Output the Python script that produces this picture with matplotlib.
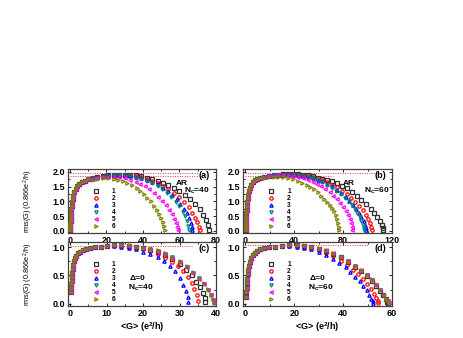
import numpy as np
import matplotlib.pyplot as plt
from matplotlib.ticker import MultipleLocator

plt.rcParams['font.family'] = ['Liberation Sans', 'DejaVu Sans']
plt.rcParams['font.weight'] = 'bold'
plt.rcParams['mathtext.fontset'] = 'custom'
plt.rcParams['mathtext.rm'] = 'Liberation Sans:bold'
plt.rcParams['mathtext.bf'] = 'Liberation Sans:bold'
plt.rcParams['mathtext.it'] = 'Liberation Sans:bold'

labels = ['1', '2', '3', '4', '5', '6']

# ---------------- panel (a): AR, Nc=40 ----------------
rise_a_g = [0.1, 0.15, 0.2, 0.3, 0.4, 0.5, 0.6, 0.75, 0.9, 1.1, 1.3, 1.6, 2.0, 2.5, 3.2, 4.0, 5.2, 6.6, 8.2, 10]
rise_a_y = [0.03, 0.09, 0.16, 0.24, 0.33, 0.42, 0.52, 0.62, 0.73, 0.85, 0.97, 1.08, 1.2, 1.32, 1.43, 1.52, 1.6, 1.66, 1.71, 1.75]
tail_a_g = [
    [12.5, 15, 18, 21, 24, 27, 30, 33, 36, 39, 42, 45, 48, 51, 54, 57, 60, 63, 66, 68.5, 71, 73, 74.5, 75.5, 76],
    [12.5, 15, 18, 21, 24, 27, 30, 33, 36, 39, 42, 45, 48, 51, 54, 57, 60, 62.5, 65, 67, 68.5, 69.8, 70.6, 71],
    [12.5, 15, 18, 21, 24, 27, 30, 33, 36, 39, 42, 45, 48, 51, 53.5, 56, 58.5, 60.5, 62.5, 64, 65.2, 66.2, 66.8, 67],
    [12.5, 15, 18, 21, 24, 27, 30, 33, 36, 39, 42, 45, 48, 50.5, 53, 55.5, 58, 60, 61.8, 63, 64, 64.6, 65],
    [12.5, 15, 18, 21, 24, 27, 30, 33, 36, 38.5, 41, 43.5, 46, 48.5, 50.5, 52.5, 54.3, 55.8, 57, 58, 58.6, 59],
    [12.5, 15, 18, 21, 24, 26.5, 29, 31.5, 34, 36.5, 38.5, 40.5, 42.5, 44.3, 46, 47.5, 48.8, 49.9, 50.8, 51.5, 51.9],
]
tail_a_y = [
    [1.79, 1.82, 1.85, 1.88, 1.9, 1.91, 1.91, 1.9, 1.88, 1.85, 1.81, 1.76, 1.7, 1.63, 1.55, 1.46, 1.35, 1.22, 1.07, 0.92, 0.74, 0.55, 0.37, 0.19, 0.03],
    [1.79, 1.82, 1.85, 1.87, 1.89, 1.9, 1.9, 1.88, 1.86, 1.82, 1.77, 1.71, 1.63, 1.54, 1.43, 1.3, 1.14, 0.98, 0.8, 0.62, 0.45, 0.29, 0.15, 0.03],
    [1.78, 1.82, 1.85, 1.87, 1.89, 1.9, 1.89, 1.87, 1.84, 1.8, 1.74, 1.67, 1.58, 1.47, 1.36, 1.23, 1.08, 0.93, 0.76, 0.6, 0.44, 0.28, 0.14, 0.03],
    [1.78, 1.81, 1.84, 1.86, 1.88, 1.88, 1.87, 1.85, 1.81, 1.76, 1.7, 1.62, 1.52, 1.42, 1.3, 1.16, 0.99, 0.83, 0.65, 0.49, 0.33, 0.18, 0.04],
    [1.76, 1.79, 1.82, 1.83, 1.83, 1.82, 1.79, 1.74, 1.67, 1.6, 1.51, 1.41, 1.29, 1.15, 1.02, 0.87, 0.71, 0.56, 0.41, 0.27, 0.14, 0.03],
    [1.74, 1.77, 1.79, 1.79, 1.77, 1.74, 1.7, 1.64, 1.56, 1.46, 1.37, 1.26, 1.13, 1.0, 0.86, 0.72, 0.58, 0.44, 0.3, 0.17, 0.04],
]

# ---------------- panel (b): AR, Nc=60 ----------------
rise_b_g = [0.15, 0.2, 0.3, 0.4, 0.5, 0.65, 0.8, 1.0, 1.2, 1.5, 1.9, 2.4, 3.0, 3.8, 4.8, 6.0, 7.5, 9.5, 12]
rise_b_y = [0.03, 0.1, 0.18, 0.27, 0.37, 0.48, 0.6, 0.72, 0.84, 0.97, 1.1, 1.23, 1.36, 1.47, 1.57, 1.65, 1.72, 1.77, 1.8]
tail_b_g = [
    [15, 19, 23, 27, 31, 35, 39, 43, 47, 51, 55, 59, 63, 67, 71, 75, 79, 83, 87, 91, 95, 99, 102.5, 105.5, 108, 110, 111.6, 112.6, 113],
    [15, 19, 23, 27, 31, 35, 39, 43, 47, 51, 55, 59, 63, 67, 71, 75, 79, 83, 86.5, 90, 93, 96, 98.5, 100.5, 102, 103.2, 103.8],
    [15, 19, 23, 27, 31, 35, 39, 43, 47, 51, 55, 59, 63, 67, 71, 75, 78.5, 82, 85, 88, 90.5, 93, 95, 96.7, 98, 98.8, 99.1],
    [15, 19, 23, 27, 31, 35, 39, 43, 47, 51, 55, 59, 63, 67, 71, 74.5, 78, 81.5, 84.5, 87, 89.5, 91.5, 93.5, 95, 96.1, 96.8, 97],
    [15, 19, 23, 27, 31, 35, 39, 43, 47, 51, 55, 58.5, 62, 65.5, 69, 72, 75, 77.5, 80, 82, 83.8, 85.3, 86.4, 87.2, 87.5],
    [15, 19, 23, 27, 31, 35, 39, 43, 46.5, 50, 53, 56, 59, 62, 64.5, 67, 69, 70.8, 72.5, 73.8, 74.9, 75.7, 76.2, 76.5],
]
tail_b_y = [
    [1.83, 1.86, 1.88, 1.9, 1.92, 1.93, 1.93, 1.92, 1.9, 1.88, 1.85, 1.81, 1.77, 1.73, 1.68, 1.62, 1.54, 1.44, 1.32, 1.18, 1.05, 0.9, 0.74, 0.6, 0.46, 0.33, 0.2, 0.09, 0.02],
    [1.83, 1.86, 1.88, 1.9, 1.91, 1.92, 1.92, 1.91, 1.89, 1.86, 1.82, 1.77, 1.72, 1.65, 1.57, 1.48, 1.37, 1.25, 1.13, 0.99, 0.85, 0.7, 0.55, 0.41, 0.27, 0.14, 0.03],
    [1.83, 1.86, 1.88, 1.9, 1.91, 1.92, 1.91, 1.9, 1.87, 1.84, 1.8, 1.74, 1.68, 1.6, 1.51, 1.4, 1.29, 1.16, 1.03, 0.89, 0.76, 0.61, 0.47, 0.34, 0.21, 0.1, 0.02],
    [1.83, 1.86, 1.88, 1.89, 1.9, 1.91, 1.9, 1.89, 1.86, 1.83, 1.78, 1.72, 1.65, 1.57, 1.47, 1.37, 1.26, 1.13, 1.0, 0.87, 0.73, 0.6, 0.46, 0.33, 0.2, 0.09, 0.02],
    [1.82, 1.85, 1.87, 1.88, 1.88, 1.87, 1.86, 1.83, 1.79, 1.74, 1.67, 1.6, 1.52, 1.42, 1.31, 1.2, 1.07, 0.95, 0.81, 0.67, 0.53, 0.39, 0.26, 0.13, 0.03],
    [1.8, 1.82, 1.83, 1.83, 1.82, 1.8, 1.76, 1.7, 1.64, 1.57, 1.49, 1.41, 1.32, 1.2, 1.09, 0.98, 0.88, 0.78, 0.66, 0.53, 0.4, 0.27, 0.14, 0.03],
]

# ---------------- panel (c): Delta=0, Nc=40 ----------------
rise_c_g = [0.2, 0.25, 0.3, 0.4, 0.5, 0.6, 0.75, 0.9, 1.1, 1.35, 1.7, 2.1, 2.7, 3.4, 4.3, 5.4, 6.8, 8.4, 10]
rise_c_y = [0.2, 0.27, 0.34, 0.41, 0.48, 0.55, 0.62, 0.69, 0.75, 0.8, 0.85, 0.89, 0.92, 0.95, 0.97, 0.99, 1.0, 1.01, 1.02]
tail_c_g = [
    [12, 14, 16, 18, 20, 22, 24, 26, 28, 30, 31.8, 33.3, 34.6, 35.6, 36.4, 36.9, 37.1],
    [12, 14, 16, 18, 20, 22, 24, 26, 27.8, 29.5, 31, 32.3, 33.3, 34.1, 34.7, 35],
    [12, 14, 16, 18, 20, 22, 24, 25.8, 27.4, 28.8, 30, 31, 31.7, 32.2, 32.4],
    [12, 14, 16, 18, 20, 22, 24, 26, 28, 30, 32, 33.8, 35.3, 36.6, 37.7, 38.6, 39.2, 39.5],
    [12, 14, 16, 18, 20, 22, 24, 26, 28, 30, 32, 33.8, 35.3, 36.6, 37.7, 38.6, 39.2, 39.4],
    [12, 14, 16, 18, 20, 22, 24, 26, 28, 30, 32, 33.8, 35.3, 36.6, 37.7, 38.6, 39.2, 39.5],
]
tail_c_y = [
    [1.03, 1.03, 1.02, 1.0, 0.98, 0.95, 0.91, 0.86, 0.79, 0.7, 0.6, 0.5, 0.39, 0.29, 0.19, 0.1, 0.03],
    [1.03, 1.02, 1.01, 0.99, 0.96, 0.93, 0.88, 0.81, 0.74, 0.66, 0.57, 0.47, 0.37, 0.26, 0.15, 0.04],
    [1.02, 1.01, 0.99, 0.96, 0.92, 0.88, 0.82, 0.75, 0.67, 0.57, 0.45, 0.33, 0.22, 0.12, 0.03],
    [1.03, 1.03, 1.02, 1.01, 0.99, 0.97, 0.93, 0.88, 0.82, 0.74, 0.65, 0.55, 0.45, 0.35, 0.25, 0.15, 0.07, 0.02],
    [1.03, 1.03, 1.02, 1.0, 0.98, 0.96, 0.92, 0.87, 0.81, 0.73, 0.64, 0.54, 0.44, 0.34, 0.24, 0.15, 0.07, 0.02],
    [1.04, 1.03, 1.03, 1.01, 0.99, 0.97, 0.94, 0.89, 0.83, 0.75, 0.66, 0.56, 0.46, 0.36, 0.26, 0.16, 0.08, 0.02],
]

# ---------------- panel (d): Delta=0, Nc=60 ----------------
rise_d_g = [0.3, 0.4, 0.5, 0.6, 0.75, 0.9, 1.1, 1.4, 1.8, 2.3, 3.0, 3.8, 4.8, 6.0, 7.5, 9.5, 12, 15]
rise_d_y = [0.12, 0.2, 0.28, 0.36, 0.44, 0.52, 0.6, 0.67, 0.74, 0.8, 0.86, 0.9, 0.93, 0.96, 0.98, 1.0, 1.01, 1.02]
tail_d_g = [
    [18, 21, 24, 27, 30, 33, 36, 39, 42, 45, 47.5, 49.8, 51.8, 53.6, 55.2, 56.5, 57.5, 58.1, 58.4],
    [18, 21, 24, 27, 30, 33, 36, 39, 41.5, 44, 46, 48, 49.8, 51.3, 52.6, 53.6, 54.2, 54.4],
    [18, 21, 24, 27, 30, 33, 36, 38.5, 41, 43, 45, 46.7, 48.2, 49.6, 50.7, 51.6, 52.1, 52.4],
    [18, 21, 24, 27, 30, 33, 36, 39, 42, 45, 47.5, 49.8, 51.8, 53.6, 55.2, 56.5, 57.6, 58.3, 58.7],
    [18, 21, 24, 27, 30, 33, 36, 39, 42, 45, 47.5, 49.8, 51.8, 53.6, 55.2, 56.5, 57.6, 58.3, 58.7],
    [18, 21, 24, 27, 30, 33, 36, 39, 42, 45, 47.5, 49.8, 51.8, 53.6, 55.2, 56.6, 57.7, 58.5, 58.9],
]
tail_d_y = [
    [1.03, 1.03, 1.02, 1.0, 0.97, 0.93, 0.88, 0.82, 0.74, 0.65, 0.57, 0.49, 0.41, 0.32, 0.23, 0.15, 0.08, 0.03, 0.01],
    [1.03, 1.02, 1.01, 0.98, 0.95, 0.9, 0.84, 0.76, 0.69, 0.6, 0.52, 0.43, 0.35, 0.26, 0.18, 0.1, 0.05, 0.01],
    [1.02, 1.01, 0.99, 0.96, 0.92, 0.86, 0.79, 0.72, 0.64, 0.56, 0.48, 0.4, 0.32, 0.24, 0.16, 0.09, 0.04, 0.01],
    [1.03, 1.03, 1.02, 1.0, 0.97, 0.93, 0.88, 0.82, 0.75, 0.66, 0.58, 0.5, 0.42, 0.33, 0.24, 0.16, 0.09, 0.04, 0.01],
    [1.04, 1.03, 1.02, 1.0, 0.97, 0.94, 0.89, 0.83, 0.75, 0.67, 0.59, 0.5, 0.42, 0.33, 0.24, 0.16, 0.09, 0.04, 0.01],
    [1.04, 1.04, 1.03, 1.01, 0.98, 0.94, 0.89, 0.83, 0.76, 0.67, 0.59, 0.51, 0.43, 0.34, 0.25, 0.16, 0.09, 0.04, 0.01],
]

# red dotted reference lines: (y, xmin, xmax)
ref_a = [(1.96, 0, 70), (1.87, 0, 70)]
ref_b = [(1.97, 0, 108), (1.87, 0, 72)]
ref_c = [(1.02, 0, 33.5)]
ref_d = [(1.03, 0, 50)]

colors = ['#303030', '#ff0000', '#0000ff', '#008080', '#ff00ff', '#808000']
markers = ['s', 'o', '^', 'v', '<', '>']

fig = plt.figure(figsize=(4.63, 3.38), dpi=100)
W, H = 463.0, 338.0


def axes_px(x0, y0, x1, y1):
    return fig.add_axes([x0 / W, 1 - y1 / H, (x1 - x0) / W, (y1 - y0) / H])


ax_a = axes_px(68, 169, 216, 233)
ax_b = axes_px(243, 169, 392, 233)
ax_c = axes_px(68, 242, 216, 306)
ax_d = axes_px(243, 242, 392, 306)

panels = [
    (ax_a, rise_a_g, rise_a_y, tail_a_g, tail_a_y, ref_a, (-1, 80), (-0.07, 2.1), 20, 0.5, '(a)', 'AR', r'N$_\mathbf{c}$=40'),
    (ax_b, rise_b_g, rise_b_y, tail_b_g, tail_b_y, ref_b, (-2, 120), (-0.07, 2.1), 40, 0.5, '(b)', 'AR', r'N$_\mathbf{c}$=60'),
    (ax_c, rise_c_g, rise_c_y, tail_c_g, tail_c_y, ref_c, (-0.6, 40), (-0.04, 1.09), 10, 0.5, '(c)', '\u0394=0', r'N$_\mathbf{c}$=40'),
    (ax_d, rise_d_g, rise_d_y, tail_d_g, tail_d_y, ref_d, (-1, 60), (-0.04, 1.09), 20, 0.5, '(d)', '\u0394=0', r'N$_\mathbf{c}$=60'),
]

for idx, (ax, rg, ry, tg, ty, refs, xl, yl, xmaj, ymaj, tag, t1, t2) in enumerate(panels):
    for yv, x0, x1 in refs:
        ax.hlines(yv, x0, x1, colors='#ff3030', linestyles=(0, (1, 1.5)), linewidth=0.7, zorder=1)
    handles = []
    for k in range(6):
        g = list(rg) + tg[k]
        y = list(ry) + ty[k]
        h, = ax.plot(g, y, linestyle='none', marker=markers[k], ms=2.4,
                     mfc='none', mec=colors[k], mew=0.9, label=labels[k], zorder=2 + k)
        handles.append(h)
    ax.set_xlim(*xl)
    ax.set_ylim(*yl)
    ax.xaxis.set_major_locator(MultipleLocator(xmaj))
    ax.xaxis.set_minor_locator(MultipleLocator(xmaj / 2))
    ax.yaxis.set_major_locator(MultipleLocator(ymaj))
    ax.yaxis.set_minor_locator(MultipleLocator(ymaj / 2))
    ax.tick_params(which='both', direction='in', top=True, right=True, labelsize=6.5, pad=2, width=0.6)
    ax.tick_params(which='major', length=2.5)
    ax.tick_params(which='minor', length=1.3)
    for lab in ax.get_xticklabels() + ax.get_yticklabels():
        lab.set_fontweight('bold')
    for sp in ax.spines.values():
        sp.set_linewidth(0.9)
        sp.set_color('#404040')

    ax.legend(handles=handles, loc='upper left', bbox_to_anchor=(0.165, 0.7), frameon=False,
              handlelength=1.0, handletextpad=2.0, labelspacing=0.0,
              borderpad=0, borderaxespad=0, prop={'weight': 'bold', 'size': 4.7})

    ax.text(0.92, 0.9, tag, transform=ax.transAxes, ha='center', va='center', fontsize=6.5, fontweight='bold')
    if idx < 2:
        ax.text(0.77 if idx == 0 else 0.71, 0.77, t1, transform=ax.transAxes, ha='center', va='center', fontsize=6, fontweight='bold')
        ax.text(0.87 if idx == 0 else 0.9, 0.65, t2, transform=ax.transAxes, ha='center', va='center', fontsize=6, fontweight='bold')
    else:
        ax.text(0.47 if idx == 2 else 0.5, 0.43, t1, transform=ax.transAxes, ha='center', va='center', fontsize=6, fontweight='bold')
        ax.text(0.49 if idx == 2 else 0.52, 0.28, t2, transform=ax.transAxes, ha='center', va='center', fontsize=6, fontweight='bold')

for ax in (ax_a, ax_c):
    ax.set_ylabel(r'rms(G) (0.866e$^\mathregular{2}$/h)', fontsize=5.3, fontweight='normal')
    ax.yaxis.set_label_coords(-0.22, 0.5)

for ax in (ax_c, ax_d):
    ax.set_xlabel(r'<G> (e$^\mathbf{2}$/h)', fontsize=6.5, fontweight='bold')
    ax.xaxis.set_label_coords(0.5, -0.23)

fig.savefig('out.png', dpi=100)
